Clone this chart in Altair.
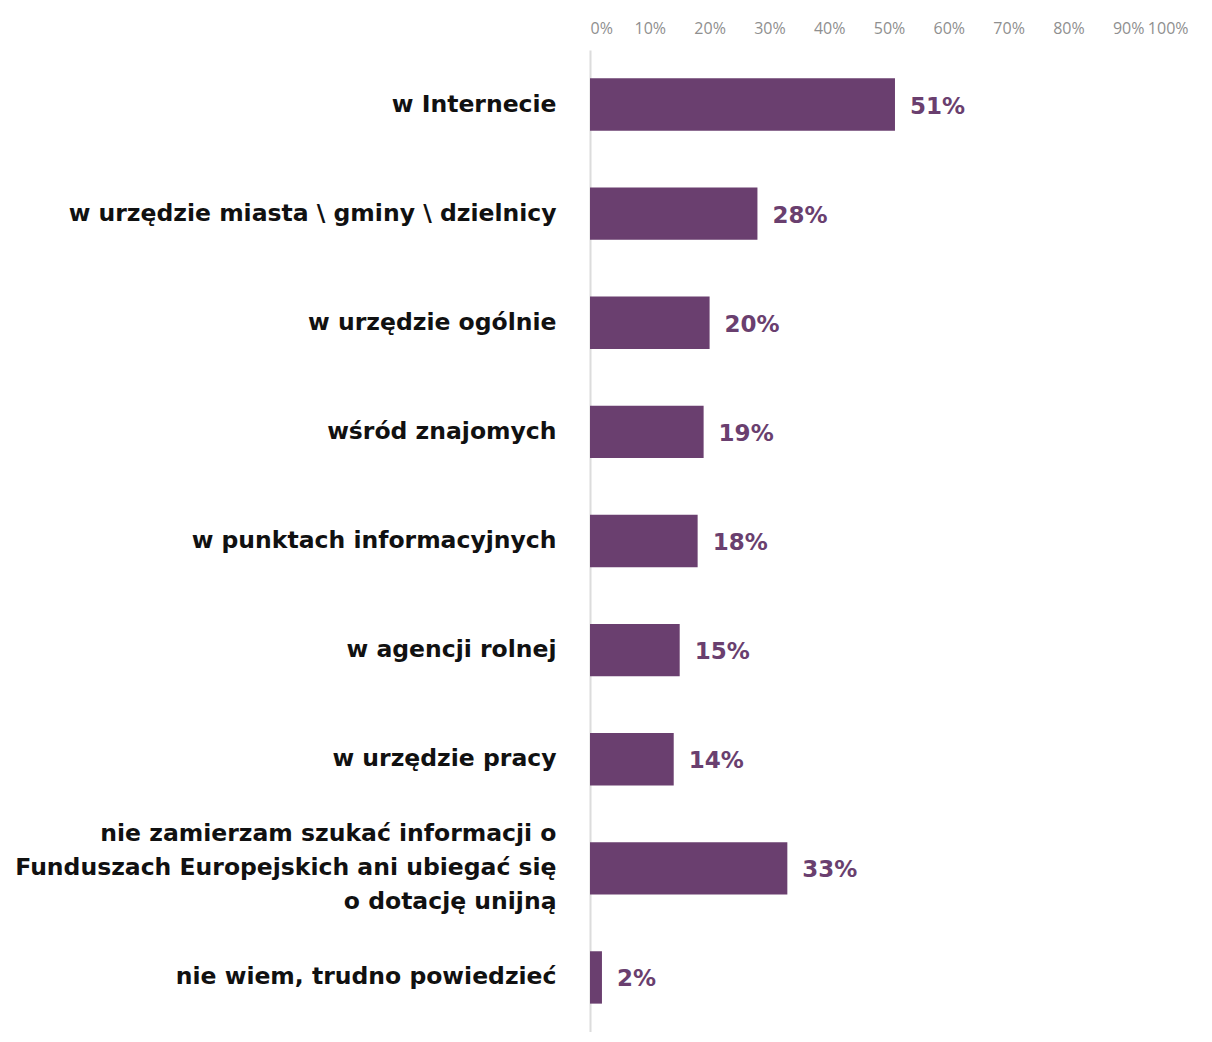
import altair as alt
import pandas as pd

categories = [
    "w Internecie",
    "w urzędzie miasta \\ gminy \\ dzielnicy",
    "w urzędzie ogólnie",
    "wśród znajomych",
    "w punktach informacyjnych",
    "w agencji rolnej",
    "w urzędzie pracy",
    "nie zamierzam szukać informacji o|Funduszach Europejskich ani ubiegać się|o dotację unijną",
    "nie wiem, trudno powiedzieć",
]
values = [0.51, 0.28, 0.20, 0.19, 0.18, 0.15, 0.14, 0.33, 0.02]
tick_values = [0, 0.1, 0.2, 0.3, 0.4, 0.5, 0.6, 0.7, 0.8, 0.9, 1.0]

df = pd.DataFrame({"cat": categories, "val": values})

PURPLE = "#6a3f6f"
FONT = "DejaVu Sans"

y_enc = alt.Y(
    "cat:N",
    sort=None,
    title=None,
    scale=alt.Scale(paddingInner=0.52, paddingOuter=0.26),
    axis=alt.Axis(
        labelExpr="split(datum.label, '|')",
        labelFont=FONT,
        labelFontWeight="bold",
        labelFontSize=23.5,
        labelColor="#111111",
        labelLineHeight=34,
        labelPadding=34,
        labelLimit=0,
        labelOffset={
            "condition": {"test": "indexof(datum.value, '|') >= 0", "value": -34},
            "value": 0,
        },
        ticks=False,
        domain=True,
        domainColor="#dcdcdc",
        domainWidth=2,
        grid=False,
    ),
)

x_enc = alt.X(
    "val:Q",
    title=None,
    scale=alt.Scale(domain=[0, 1], nice=False),
    axis=alt.Axis(
        orient="top",
        values=tick_values,
        format=".0%",
        labelFont="Open Sans",
        labelFontSize=16,
        labelColor="#8f8f8f",
        labelPadding=14,
        ticks=False,
        domain=False,
        grid=False,
    ),
)

base = alt.Chart(df)

bars = base.mark_bar(color=PURPLE).encode(x=x_enc, y=y_enc)

labels = base.mark_text(
    align="left",
    baseline="middle",
    dx=15,
    dy=2,
    font=FONT,
    fontWeight="bold",
    fontSize=23,
    color=PURPLE,
).encode(
    x="val:Q",
    y=alt.Y("cat:N", sort=None),
    text=alt.Text("val:Q", format=".0%"),
)

chart = (
    alt.layer(bars, labels)
    .properties(
        width=598,
        height=982,
        background="white",
        autosize=alt.AutoSizeParams(type="none"),
        padding={"left": 582, "top": 42, "right": 12, "bottom": 0},
    )
    .configure_view(strokeWidth=0, stroke="transparent")
)

chart.save("out.html", embed_options={"renderer": "svg", "actions": False})
